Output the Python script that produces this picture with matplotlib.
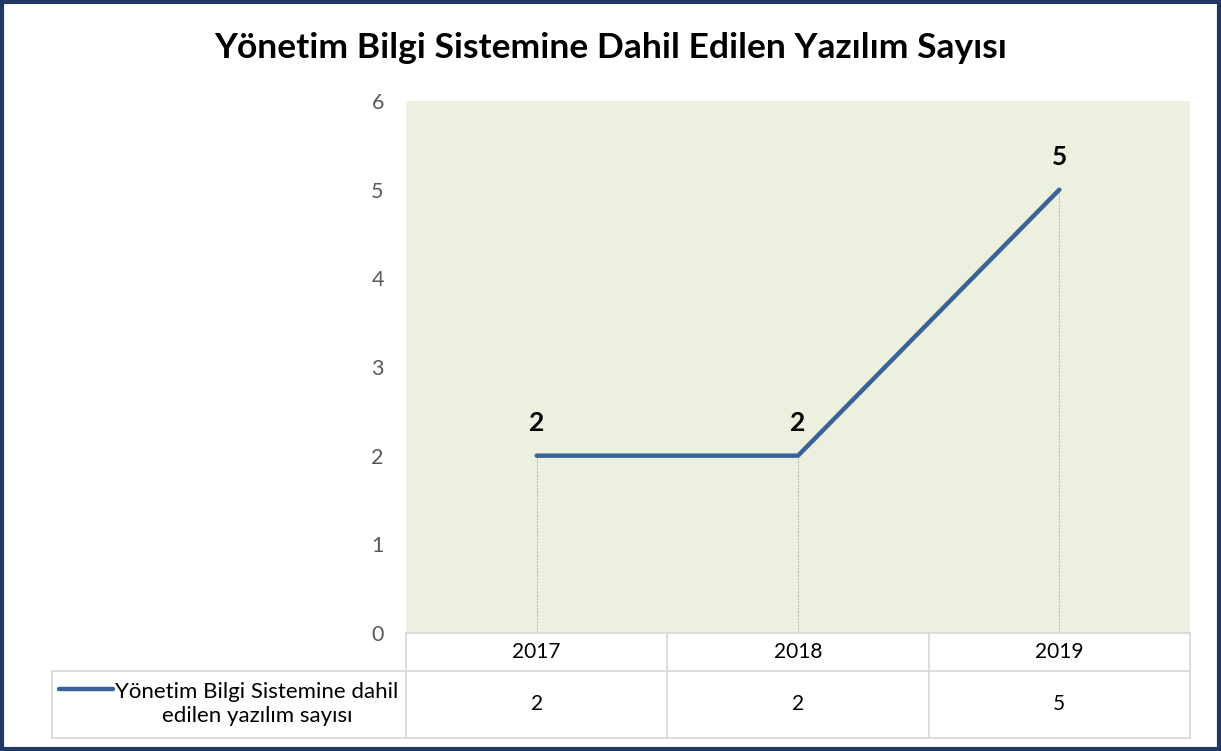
import matplotlib.pyplot as plt
from matplotlib.transforms import blended_transform_factory
from matplotlib.lines import Line2D
from matplotlib.patches import Rectangle

years = ['2017', '2018', '2019']
values = [2, 2, 5]
series_name = 'Yönetim Bilgi Sistemine dahil\nedilen yazılım sayısı'
title = 'Yönetim Bilgi Sistemine Dahil Edilen Yazılım Sayısı'

plt.rcParams['font.family'] = ['Lato', 'DejaVu Sans']

W, H = 1221, 751
fig = plt.figure(figsize=(W / 100, H / 100), dpi=100)

# outer border
fig.patches.append(Rectangle((2 / W, 2 / H), 1 - 4 / W, 1 - 4 / H, transform=fig.transFigure,
                             fill=False, edgecolor='#1F3864', linewidth=3))

ax = fig.add_axes([406 / W, 118 / H, 784 / W, 532 / H])
ax.set_facecolor('#EBF0DF')
for s in ax.spines.values():
    s.set_visible(False)

x = list(range(len(years)))
ax.plot(x, values, color='#3A6296', linewidth=3.2, solid_capstyle='round', zorder=3)
ax.vlines(x, 0, values, colors='#BFBFBF', linestyles=(0, (2, 1)), linewidth=0.8, zorder=2)
for xi, v in zip(x, values):
    ax.annotate(str(v), (xi, v), xytext=(0, 15), textcoords='offset points',
                ha='center', va='bottom', fontsize=19, fontweight='bold', color='black')

ax.set_xlim(-0.5, len(years) - 0.5)
ax.set_ylim(0, 6)
ax.set_yticks(range(0, 7))
ax.tick_params(axis='y', length=0, pad=16, labelsize=15.5, labelcolor='#595959')
ax.set_xticks([])

fig.text(611 / W, 703 / H, title, ha='center', va='center', fontsize=25.5, fontweight='bold')

# data table below the plot
grid = '#D9D9D9'
trx = blended_transform_factory(ax.transData, fig.transFigure)
y_top, y_mid, y_bot = 118 / H, 80 / H, 13 / H
x_l, x_a = 52 / W, 406 / W
x_r = 1190 / W
for yy in (y_top, y_mid, y_bot):
    x0 = x_a if yy == y_top else x_l
    fig.add_artist(Line2D([x0, x_r], [yy, yy], color=grid, linewidth=1.3, transform=fig.transFigure))
fig.add_artist(Line2D([x_l, x_l], [y_mid, y_bot], color=grid, linewidth=1.3, transform=fig.transFigure))
for b in [i - 0.5 for i in range(len(years) + 1)]:
    fig.add_artist(Line2D([b, b], [y_top, y_bot], color=grid, linewidth=1.3, transform=trx))

for xi, yr, v in zip(x, years, values):
    fig.text(xi, (y_top + y_mid) / 2, yr, transform=trx, ha='center', va='center', fontsize=15)
    fig.text(xi, (y_mid + y_bot) / 2, str(v), transform=trx, ha='center', va='center', fontsize=15)

fig.add_artist(Line2D([59 / W, 113 / W], [62 / H, 62 / H], color='#3A6296', linewidth=3.2,
                      solid_capstyle='round', transform=fig.transFigure))
fig.text(257 / W, (y_mid + y_bot) / 2, series_name, ha='center', va='center', fontsize=16,
         linespacing=1.25)

fig.savefig('out.png', dpi=100)
